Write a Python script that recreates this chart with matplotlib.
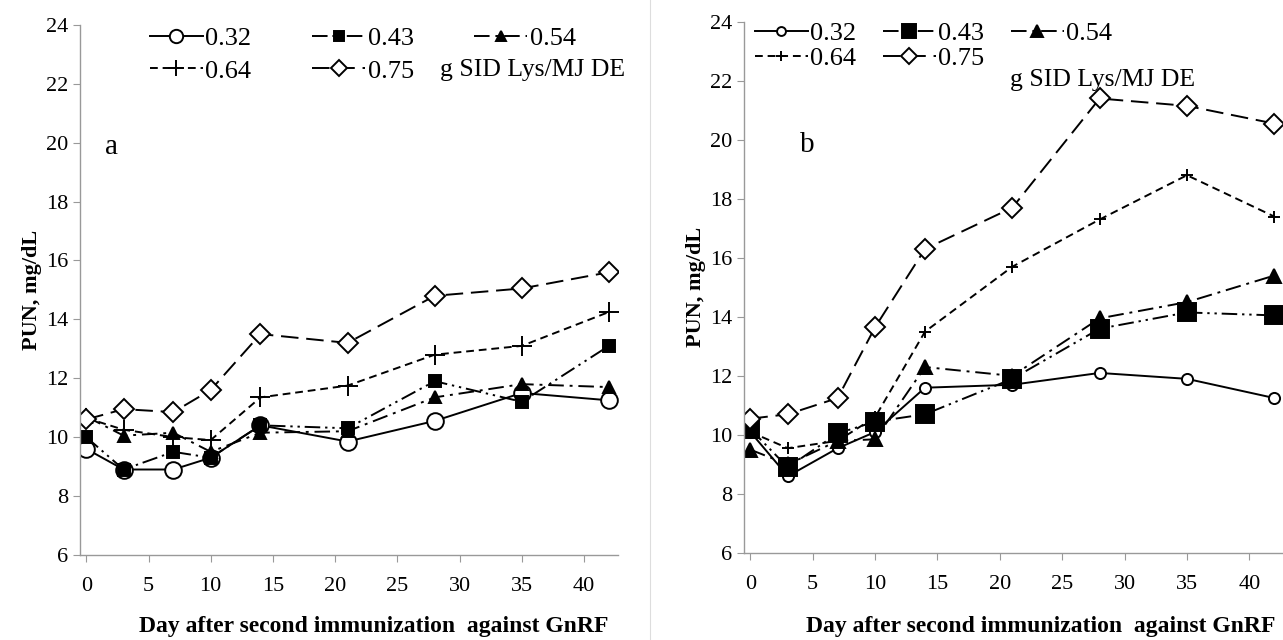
import matplotlib
matplotlib.use("Agg")
import matplotlib.pyplot as plt
from matplotlib.lines import Line2D

plt.rcParams['font.family'] = ['Liberation Serif', 'DejaVu Serif']

# days after second immunization
days = [0, 3, 7, 10, 14, 21, 28, 35, 42]
levels = ['0.32', '0.43', '0.54', '0.64', '0.75']

# panel a
a_032 = [9.6, 8.9, 8.9, 9.3, 10.4, 9.85, 10.55, 11.5, 11.25]
a_043 = [10.0, 8.9, 9.5, 9.3, 10.4, 10.3, 11.9, 11.2, 13.1]
a_054 = [10.7, 10.05, 10.15, 9.5, 10.15, 10.2, 11.35, 11.8, 11.7]
a_064 = [10.65, 10.25, 10.0, 9.9, 11.35, 11.75, 12.8, 13.1, 14.25]
a_075 = [10.6, 10.95, 10.85, 11.6, 13.5, 13.2, 14.8, 15.05, 15.6]

# panel b
b_032 = [10.1, 8.6, 9.55, 10.1, 11.6, 11.7, 12.1, 11.9, 11.25]
b_043 = [10.2, 8.9, 10.05, 10.45, 10.7, 11.9, 13.6, 14.15, 14.05]
b_054 = [9.5, 9.0, 9.8, 9.85, 12.3, 12.0, 13.95, 14.5, 15.4]
b_064 = [10.1, 9.55, 9.8, 10.6, 13.5, 15.7, 17.3, 18.8, 17.4]
b_075 = [10.55, 10.7, 11.25, 13.65, 16.3, 17.7, 21.4, 21.15, 20.55]

styles = {
    '0.32': dict(ls='-', marker='o', mfc='white'),
    '0.43': dict(ls=(0, (8, 2.5, 1.2, 2.5, 1.2, 2.5)), marker='s', mfc='black'),
    '0.54': dict(ls=(0, (8, 3, 1.5, 3)), marker='^', mfc='black'),
    '0.64': dict(ls=(0, (4, 2.5)), marker='+', mfc='black'),
    '0.75': dict(ls=(0, (9, 4)), marker='D', mfc='white'),
}
size_a = {'0.32': 12, '0.43': 8.5, '0.54': 9, '0.64': 15, '0.75': 10}
size_b = {'0.32': 8, '0.43': 13, '0.54': 10, '0.64': 9, '0.75': 10}

fig = plt.figure(figsize=(12.83, 6.4), dpi=100)
ax_a = fig.add_axes([0.0624, 0.133, 0.419, 0.828])
ax_b = fig.add_axes([0.580, 0.136, 0.420, 0.830])

# faint separator between panels
fig.add_artist(Line2D([0.507, 0.507], [0, 1], color='#dddddd', lw=0.8))


def draw(ax, series, sizes, label, label_xy, legend_anchor, colsp, rowsp, note_xy):
    lines = {}
    for lev, vals in zip(levels, series):
        st = styles[lev]
        ln, = ax.plot(days, vals, color='black', lw=1.4, ls=st['ls'],
                      marker=st['marker'], ms=sizes[lev], mfc=st['mfc'],
                      mec='black', mew=1.4, label=lev)
        lines[lev] = ln
    ax.set_xlim(-0.5, 42.7)
    ax.set_ylim(6, 24)
    ax.set_xticks(range(0, 45, 5))
    ax.set_yticks(range(6, 25, 2))
    for s in ['top', 'right']:
        ax.spines[s].set_visible(False)
    for s in ['left', 'bottom']:
        ax.spines[s].set_color('#999999')
        ax.spines[s].set_linewidth(1.0)
    ax.tick_params(colors='#999999', labelcolor='black', labelsize=16,
                   length=5, direction='out')
    ax.tick_params(axis='x', pad=11)
    ax.set_ylabel('PUN, mg/dL', fontsize=16, fontweight='bold', labelpad=3)
    ax.text(label_xy[0], label_xy[1], label, fontsize=21)
    order = ['0.32', '0.64', '0.43', '0.75', '0.54']
    ax.legend([lines[k] for k in order], order, ncol=3, frameon=False,
              loc='upper left', bbox_to_anchor=legend_anchor, fontsize=19,
              handlelength=2.0, handletextpad=0.1, columnspacing=colsp,
              labelspacing=rowsp, borderaxespad=0, borderpad=0,
              markerscale=0.8)
    ax.text(note_xy[0], note_xy[1], 'g SID Lys/MJ DE', fontsize=18.5,
            transform=ax.transAxes, ha='left', va='center')


draw(ax_a, [a_032, a_043, a_054, a_064, a_075], size_a, 'a', (1.5, 19.6),
     (0.13, 0.997), 2.3, 0.35, (0.67, 0.915))
draw(ax_b, [b_032, b_043, b_054, b_064, b_075], size_b, 'b', (4.0, 19.6),
     (0.02, 1.0), 1.0, 0.05, (0.493, 0.89))

fig.text(0.291, 0.012, 'Day after second immunization  against GnRF',
         ha='center', fontsize=17, fontweight='bold')
fig.text(0.811, 0.012, 'Day after second immunization  against GnRF',
         ha='center', fontsize=17, fontweight='bold')

fig.savefig('out.png', dpi=100)
